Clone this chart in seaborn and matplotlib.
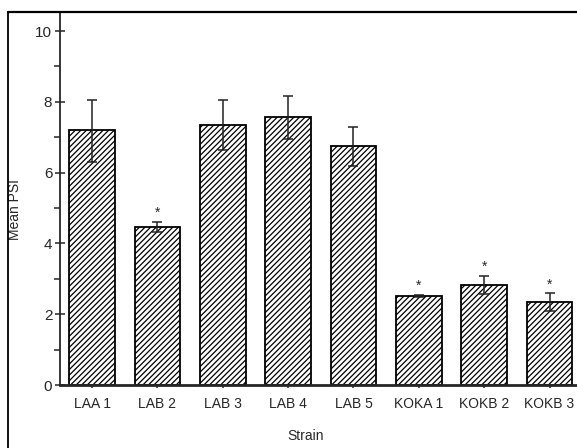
import matplotlib
matplotlib.use('Agg')
import matplotlib.pyplot as plt
import pandas as pd
import seaborn as sns
from matplotlib.lines import Line2D

# valores
strains = ['LAA 1', 'LAB 2', 'LAB 3', 'LAB 4', 'LAB 5', 'KOKA 1', 'KOKB 2', 'KOKB 3']
mean_psi = [7.20, 4.47, 7.34, 7.56, 6.75, 2.52, 2.83, 2.34]
err_upper = [8.05, 4.61, 8.05, 8.16, 7.28, 2.55, 3.09, 2.59]
err_lower = [6.30, 4.32, 6.64, 6.96, 6.20, 2.49, 2.58, 2.08]
significant = [False, True, False, False, False, True, True, True]

df = pd.DataFrame({'Strain': strains, 'Mean PSI': mean_psi})

sns.set_style('ticks')
plt.rcParams['font.family'] = ['Liberation Sans', 'DejaVu Sans']
plt.rcParams['hatch.linewidth'] = 0.9

fig = plt.figure(figsize=(5.77, 4.48), dpi=100)
ax = fig.add_axes([60 / 577, 63 / 448, 517 / 577, 373 / 448])

sns.barplot(data=df, x='Strain', y='Mean PSI', ax=ax, color='white',
            edgecolor='black', linewidth=1.3, width=0.70)
for p in ax.patches:
    p.set_hatch('//////')
    p.set_edgecolor('black')

yerr = [[m - lo for m, lo in zip(mean_psi, err_lower)],
        [hi - m for m, hi in zip(mean_psi, err_upper)]]
ax.errorbar(range(len(strains)), mean_psi, yerr=yerr, fmt='none',
            ecolor='#222222', elinewidth=1.1, capsize=3.8, capthick=1.1)

for i, (hi, sig) in enumerate(zip(err_upper, significant)):
    if sig:
        ax.text(i, hi + 0.05, '*', ha='center', va='bottom', fontsize=10)

ax.set_xlim(-0.49, 7.42)
ax.set_ylim(0, 10.54)
ax.set_yticks([0, 2, 4, 6, 8, 10])
ax.set_yticks([1, 3, 5, 7, 9], minor=True)
ax.tick_params(axis='y', which='major', direction='inout', length=7, width=1.1,
               labelsize=11, pad=2)
ax.tick_params(axis='y', which='minor', direction='out', length=4, width=1.1)
ax.tick_params(axis='x', direction='inout', length=5, width=1.1, labelsize=10, pad=6)

ax.set_xlabel('Strain', fontsize=10)
ax.set_ylabel('Mean PSI', fontsize=10)
ax.xaxis.set_label_coords(0.475, -0.118)
ax.yaxis.set_label_coords(-0.073, 0.47)

for side in ['top', 'right']:
    ax.spines[side].set_visible(False)
ax.spines['left'].set_linewidth(1.3)
ax.spines['bottom'].set_linewidth(2.0)

# moldura externa (só esquerda e topo visíveis na imagem)
fig.add_artist(Line2D([8 / 577, 8 / 577], [0, 1 - 12 / 448], color='black', lw=1.3))
fig.add_artist(Line2D([8 / 577, 1], [1 - 12 / 448, 1 - 12 / 448], color='black', lw=1.6))

plt.savefig('out.png', dpi=100)
plt.close()
